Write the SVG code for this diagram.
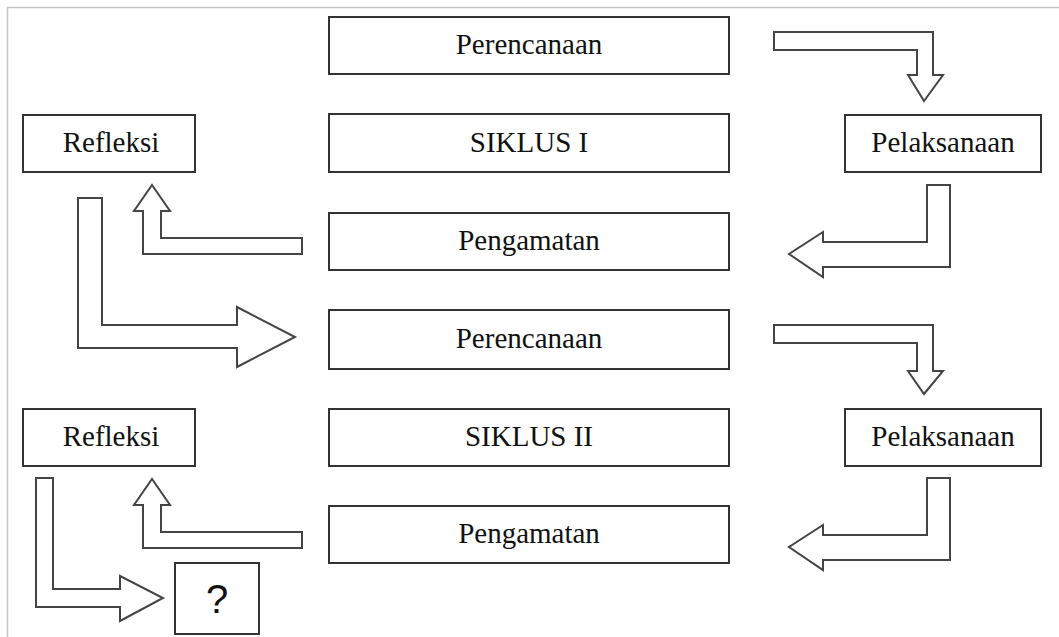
<svg xmlns="http://www.w3.org/2000/svg" width="1059" height="637" viewBox="0 0 1059 637">
<style>
.box{fill:#fff;stroke:#333;stroke-width:2}
.arr{fill:#fff;stroke:#444;stroke-width:2;stroke-linejoin:miter}
.t{font-family:"Liberation Serif","Times New Roman",serif;font-size:29px;fill:#111;text-anchor:middle}
.q{font-family:"Liberation Sans",Arial,sans-serif;font-size:40px;fill:#111;text-anchor:middle}
</style>
<rect x="0" y="0" width="1059" height="637" fill="#fff"/>
<path d="M7.5,637 V7.5 H1059" fill="none" stroke="#c4c4c4" stroke-width="1.5"/>
<g id="connectors">
<polygon class="arr" points="774,32 933,32 933,75 943,75 924,101 908,75 917,75 917,50 774,50"/>
<polygon class="arr" points="927,185 950,185 950,267 823,267 823,277 789,254 823,232 823,242 927,242"/>
<polygon class="arr" points="143,254 302,254 302,238 161,238 161,211 170,211 152,185 134,211 143,211"/>
<polygon class="arr" points="78,198 102,198 102,325 237,325 237,307 295,337 237,367 237,348 78,348"/>
<polygon class="arr" points="774,325 933,325 933,371 943,371 924,394 908,371 917,371 917,343 774,343"/>
<polygon class="arr" points="927,478 950,478 950,560 823,560 823,570 789,547 823,525 823,535 927,535"/>
<polygon class="arr" points="143,548 302,548 302,532 161,532 161,505 170,505 152,479 134,505 143,505"/>
<polygon class="arr" points="36,478 53,478 53,589 120,589 120,576 163,598 120,621 120,607 36,607"/>
</g>
<g id="perencanaan1"><rect class="box" x="329" y="17" width="400" height="57"/><text class="t" x="529" y="54">Perencanaan</text></g>
<g id="siklus1"><rect class="box" x="329" y="114" width="400" height="58"/><text class="t" x="529" y="152">SIKLUS I</text></g>
<g id="pengamatan1"><rect class="box" x="329" y="213" width="400" height="57"/><text class="t" x="529" y="250">Pengamatan</text></g>
<g id="refleksi1"><rect class="box" x="23" y="115" width="172" height="57"/><text class="t" x="111" y="152">Refleksi</text></g>
<g id="pelaksanaan1"><rect class="box" x="845" y="115" width="196" height="57"/><text class="t" x="943" y="152">Pelaksanaan</text></g>
<g id="perencanaan2"><rect class="box" x="329" y="310" width="400" height="59"/><text class="t" x="529" y="348">Perencanaan</text></g>
<g id="siklus2"><rect class="box" x="329" y="409" width="400" height="57"/><text class="t" x="529" y="446">SIKLUS II</text></g>
<g id="pengamatan2"><rect class="box" x="329" y="506" width="400" height="57"/><text class="t" x="529" y="543">Pengamatan</text></g>
<g id="refleksi2"><rect class="box" x="23" y="409" width="172" height="57"/><text class="t" x="111" y="446">Refleksi</text></g>
<g id="pelaksanaan2"><rect class="box" x="845" y="409" width="196" height="57"/><text class="t" x="943" y="446">Pelaksanaan</text></g>
<g id="question"><rect class="box" x="175" y="563" width="84" height="71"/><text class="q" x="217" y="613">?</text></g>
</svg>
